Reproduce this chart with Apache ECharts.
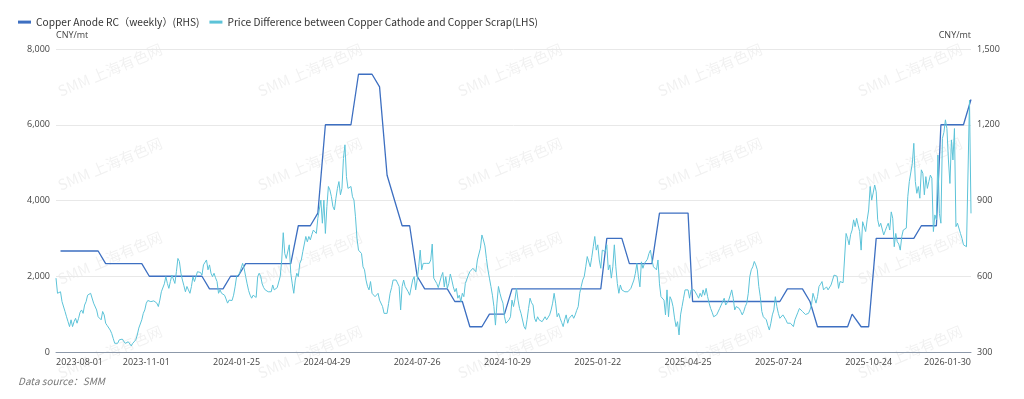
<!DOCTYPE html>
<html>
<head>
<meta charset="utf-8">
<title>Copper Anode RC vs Cathode-Scrap Spread</title>
<script src="https://cdn.jsdelivr.net/npm/echarts@6.0.0/dist/echarts.min.js"></script>
<style>
  html, body { margin: 0; padding: 0; background: #fff; }
  #chart { width: 1024px; height: 399px; }
</style>
</head>
<body>
<div id="chart"></div>
<script>
// trading calendar: weekdays between these dates, minus exchange holidays
const startDate = '2023-08-01'
const endDate = '2026-01-30'
const holidays = [
  '2023-09-29', '2023-10-02', '2023-10-03', '2023-10-04', '2023-10-05', '2023-10-06',
  '2024-01-01', '2024-02-12', '2024-02-13', '2024-02-14', '2024-02-15', '2024-02-16',
  '2024-04-04', '2024-04-05', '2024-05-01', '2024-05-02', '2024-05-03', '2024-06-10',
  '2024-09-16', '2024-09-17', '2024-10-01', '2024-10-02', '2024-10-03', '2024-10-04', '2024-10-07',
  '2025-01-01', '2025-01-28', '2025-01-29', '2025-01-30', '2025-01-31', '2025-02-03', '2025-02-04',
  '2025-04-04', '2025-05-01', '2025-05-02', '2025-05-05', '2025-06-02',
  '2025-10-01', '2025-10-02', '2025-10-03', '2025-10-06', '2025-10-07', '2025-10-08',
  '2026-01-01', '2026-01-02'
]

// Price difference between copper cathode and copper scrap (CNY/mt, daily, LHS)
const spreadValues = [
  1950, 1550, 1570, 1590, 1330, 1290, 1070, 930, 800, 670,
  850, 670, 800, 890, 760, 890, 1050, 1110, 1020, 1240,
  1330, 1500, 1550, 1550, 1500, 1290, 1240, 1110, 930, 890,
  850, 1070, 980, 760, 700, 670, 580, 490, 360, 230,
  190, 230, 320, 360, 340, 320, 230, 190, 270, 230,
  160, 230, 260, 320, 450, 630, 580, 850, 1020, 1110,
  1290, 1360, 1390, 1330, 1370, 1350, 1330, 1290, 1200, 1370,
  1590, 1550, 1800, 1990, 1810, 1680, 1860, 2030, 1990, 1810,
  2120, 2470, 2390, 2080, 1900, 1750, 1590, 1730, 1640, 1550,
  1730, 1990, 1860, 1810, 2120, 2170, 2100, 2030, 2300, 2250,
  2430, 2170, 2300, 2080, 1990, 2080, 1960, 1860, 1550, 1640,
  1550, 1590, 1500, 1400, 1290, 1370, 1360, 1360, 1500, 1720,
  1990, 2000, 2080, 2210, 2340, 2210, 2000, 1800, 1620, 1500,
  1420, 1500, 1460, 1440, 1990, 2080, 2000, 1800, 1700, 1640,
  1680, 1590, 1640, 1590, 1770, 1640, 1600, 1700, 1680, 2000,
  2430, 3150, 2600, 2470, 2520, 2830, 2080, 1800, 1550, 1900,
  2080, 1990, 2340, 2430, 2650, 2690, 3050, 2910, 3050, 2960,
  3100, 3220, 3270, 3130, 3530, 3570, 4010, 3400, 4010, 3130,
  3840, 4370, 4280, 4100, 3840, 3750, 4060, 4320, 4500, 4150,
  4320, 5110, 5470, 4630, 4320, 4280, 4370, 4100, 4010, 3570,
  3000, 2690, 2690, 2600, 2250, 2170, 1900, 1730, 1640, 1860,
  1550, 1590, 1460, 1500, 1550, 1370, 1330, 1200, 1020, 1070,
  1020, 1280, 1550, 1700, 1900, 1950, 1900, 1860, 1730, 1110,
  1730, 1900, 1730, 1700, 1590, 1500, 1550, 1900, 1990, 1640,
  1900, 2250, 2690, 2170, 2340, 2300, 2340, 2390, 2340, 2430,
  2850, 1950, 1900, 1810, 1700, 1680, 1990, 2100, 1720, 1990,
  1680, 1810, 2060, 1900, 1720, 1590, 1680, 1420, 1500, 1330,
  1550, 1460, 1810, 1860, 2030, 2120, 2170, 2210, 2250, 2120,
  2430, 2390, 2740, 3090, 2960, 2800, 2470, 2170, 1950, 1730,
  1500, 1200, 710, 1290, 1730, 1550, 1400, 1290, 930, 760,
  710, 850, 930, 1370, 1200, 1400, 1680, 1370, 1150, 1020,
  980, 670, 600, 850, 1150, 1420, 1300, 1240, 890, 800,
  930, 850, 800, 800, 850, 930, 850, 900, 980, 1110,
  1290, 1550, 1290, 930, 1020, 890, 780, 670, 850, 980,
  760, 890, 930, 980, 890, 980, 1100, 1200, 1550, 1730,
  1900, 1990, 2250, 2520, 2470, 2250, 2500, 2780, 3050, 2690,
  2830, 2430, 2210, 2690, 2690, 2650, 2830, 2170, 2300, 1950,
  2250, 2830, 2250, 1810, 1550, 1770, 1640, 1680, 1590, 1640,
  1590, 1640, 1680, 1720, 1900, 2080, 2340, 1990, 1720, 2380,
  2210, 2340, 2300, 2450, 2600, 2690, 2430, 2250, 2300, 2170,
  2430, 1800, 1460, 1500, 1370, 980, 1640, 930, 1460, 1370,
  1200, 900, 670, 800, 450, 980, 1200, 1420, 1640, 1590,
  1640, 1420, 1640, 1680, 1640, 1640, 1500, 1420, 1550, 1460,
  1640, 1500, 1680, 1460, 1290, 1150, 1050, 930, 980, 980,
  1020, 1150, 1240, 1290, 1420, 1240, 1300, 1370, 1500, 1640,
  1420, 1110, 1200, 1240, 1150, 1070, 980, 1070, 1200, 1290,
  1550, 1990, 2170, 2250, 2390, 2300, 2170, 1730, 1460, 1070,
  930, 890, 850, 700, 580, 760, 980, 1110, 1460, 1200,
  1020, 890, 850, 980, 930, 850, 760, 800, 760, 710,
  670, 850, 950, 1050, 1150, 1110, 1070, 1020, 990, 980,
  1020, 1110, 1240, 1550, 1420, 1290, 1460, 1730, 1790, 1860,
  1640, 1640, 1720, 1640, 1680, 1770, 1900, 2030, 2080, 2000,
  1680, 1860, 1810, 1830, 1860, 3130, 3000, 2830, 3100, 3220,
  3490, 3310, 3530, 3350, 3180, 2690, 3440, 3400, 3180, 3490,
  3750, 4370, 4010, 4200, 4410, 4230, 3490, 3310, 3400, 3440,
  3090, 3200, 3310, 3400, 3220, 3700, 3530, 2780, 3130, 2910,
  2850, 2690, 3050, 3220, 3180, 3270, 4100, 4500, 4450, 4980,
  5510, 4500, 4190, 4370, 4060, 4810, 4720, 4150, 4630, 4320,
  4500, 4670, 4590, 3180, 3620, 3490, 5200, 3660, 3400, 5640,
  5800, 6130, 5900, 5070, 4450, 5600, 5070, 5900, 3310, 3400,
  3440, 3130, 3000, 2830, 2870, 2780, 2830, 6650, 3660
]

// Copper anode RC (CNY/mt, weekly, RHS)
const rcDates = [
  '2023-08-04', '2023-09-08', '2023-09-15', '2023-10-27', '2023-11-03', '2023-12-22',
  '2023-12-29', '2024-01-12', '2024-01-19', '2024-01-26', '2024-02-02', '2024-03-22',
  '2024-03-29', '2024-04-12', '2024-04-19', '2024-04-26', '2024-05-24', '2024-05-31',
  '2024-06-14', '2024-06-21', '2024-06-28', '2024-07-12', '2024-07-19', '2024-07-26',
  '2024-08-02', '2024-08-23', '2024-08-30', '2024-09-06', '2024-09-13', '2024-09-27',
  '2024-10-11', '2024-10-25', '2024-11-01', '2025-01-24', '2025-02-07', '2025-02-21',
  '2025-02-28', '2025-03-21', '2025-03-28', '2025-04-25', '2025-04-30', '2025-07-25',
  '2025-08-01', '2025-08-15', '2025-08-22', '2025-08-29', '2025-09-26', '2025-10-09',
  '2025-10-10', '2025-10-17', '2025-10-24', '2025-10-31', '2025-12-05', '2025-12-12',
  '2025-12-26', '2025-12-31', '2026-01-23', '2026-01-30'
]
const rcValues = [
  700, 700, 650, 650, 600, 600,
  550, 550, 600, 600, 650, 650,
  800, 800, 850, 1200, 1200, 1400,
  1400, 1350, 1000, 800, 800, 600,
  550, 550, 500, 500, 400, 400,
  450, 450, 550, 550, 750, 750,
  650, 650, 850, 850, 500, 500,
  550, 550, 500, 400, 400, 450,
  450, 400, 400, 750, 750, 800,
  800, 1200, 1200, 1300
]

const legendNames = [
  'Copper Anode RC（weekly）(RHS)',
  'Price Difference between Copper Cathode and Copper Scrap(LHS)'
]

let dates = []
for (let t = Date.parse(startDate); t <= Date.parse(endDate); t += 86400000) {
  let d = new Date(t)
  let wd = d.getUTCDay()
  let s = d.toISOString().slice(0, 10)
  if (wd > 0 && wd < 6 && holidays.indexOf(s) < 0) dates.push(s)
}
const lastIdx = dates.length - 1

let rcData = rcDates.map((d, i) => [dates.indexOf(d), rcValues[i]])

// watermark tiles
let marks = []
;[110, 310, 510, 710, 910].forEach(x => {
  [70, 164, 258, 352].forEach(y => {
    marks.push({
      type: 'text', x: x, y: y, rotation: 0.4, z: 0, silent: true,
      style: {
        text: 'SMM 上海有色网', fill: 'rgba(0,0,0,0.06)',
        font: '15px "Noto Sans CJK SC"', align: 'center', verticalAlign: 'middle'
      }
    })
  })
})

const chart = echarts.init(document.getElementById('chart'), null, {renderer: 'canvas'})
const axisFont = 'Open Sans'

chart.setOption({
  animation: false,
  textStyle: {fontFamily: axisFont},
  color: ['#3d6fc1', '#5cc3d8'],
  legend: {
    left: 13,
    top: 12,
    itemWidth: 13,
    itemHeight: 3,
    itemGap: 10,
    icon: 'rect',
    textStyle: {fontSize: 10.2, color: '#333', fontFamily: 'Noto Sans CJK SC'},
    data: legendNames
  },
  grid: {left: 56, right: 53, top: 49, bottom: 47},
  xAxis: {
    type: 'category',
    boundaryGap: false,
    data: dates,
    axisTick: {show: false},
    axisLine: {lineStyle: {color: '#8d99aa'}},
    axisLabel: {
      color: '#444',
      fontSize: 9,
      margin: 6,
      interval: (idx) => (idx % 60 === 0 && idx <= lastIdx - 30) || idx === lastIdx,
      alignMinLabel: 'left',
      alignMaxLabel: 'right'
    },
    splitLine: {show: false}
  },
  yAxis: [
    {
      type: 'value',
      name: 'CNY/mt',
      nameGap: 9,
      nameTextStyle: {color: '#444', fontSize: 9, align: 'left'},
      min: 0,
      max: 8000,
      interval: 2000,
      axisLine: {show: false},
      axisTick: {show: false},
      axisLabel: {color: '#444', fontSize: 9, margin: 6},
      splitLine: {lineStyle: {color: '#e8e8e8'}}
    },
    {
      type: 'value',
      name: 'CNY/mt',
      nameGap: 9,
      nameTextStyle: {color: '#444', fontSize: 9, align: 'right'},
      min: 300,
      max: 1500,
      interval: 300,
      axisLine: {show: false},
      axisTick: {show: false},
      axisLabel: {color: '#444', fontSize: 9, margin: 6},
      splitLine: {show: false}
    }
  ],
  series: [
    {
      name: legendNames[0],
      type: 'line',
      yAxisIndex: 1,
      symbol: 'none',
      lineStyle: {width: 1.3, color: '#3d6fc1'},
      itemStyle: {color: '#3d6fc1'},
      data: rcData
    },
    {
      name: legendNames[1],
      type: 'line',
      yAxisIndex: 0,
      symbol: 'none',
      lineStyle: {width: 1, color: '#5cc3d8'},
      itemStyle: {color: '#5cc3d8'},
      data: spreadValues
    }
  ],
  graphic: marks.concat([
    {
      type: 'text', left: 18, top: 376, z: 10,
      style: {
        text: 'Data source：SMM', fill: '#777',
        font: 'italic 10px "Noto Sans CJK SC"'
      }
    }
  ])
})
</script>
</body>
</html>
